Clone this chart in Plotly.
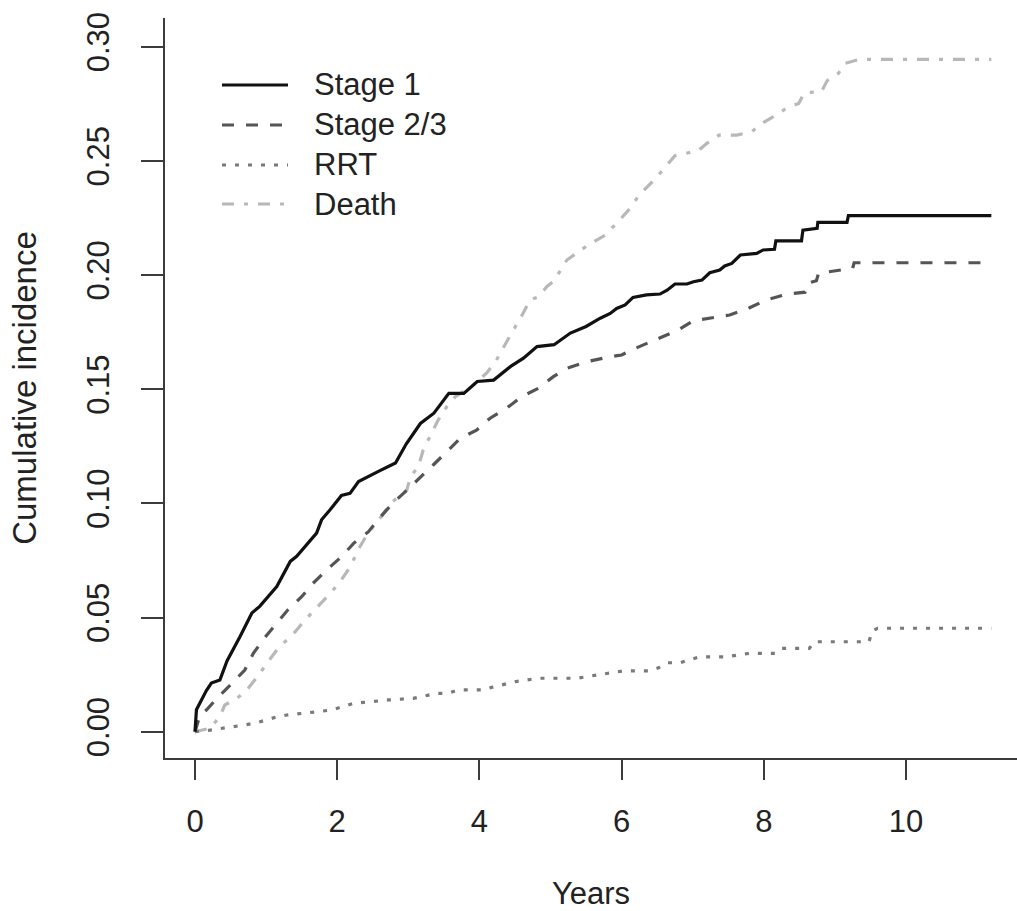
import plotly.graph_objects as go

# ---------------- data ----------------
stage1_x = [0, 0.02, 0.16, 0.23, 0.35, 0.45, 0.63, 0.80, 0.91, 1.15, 1.34, 1.43, 1.71, 1.78,
            1.90, 2.06, 2.18, 2.30, 2.58, 2.82, 2.97, 3.17, 3.36, 3.57, 3.78, 3.97, 4.20,
            4.44, 4.62, 4.81, 5.05, 5.28, 5.50, 5.70, 5.84, 5.93, 6.05, 6.16, 6.35, 6.54,
            6.64, 6.75, 6.92, 7.01, 7.13, 7.24, 7.38, 7.45, 7.55, 7.67, 7.90, 7.99, 8.15,
            8.17, 8.53, 8.55, 8.75, 8.76, 9.17, 9.19, 11.2]
stage1_y = [0, 0.0096, 0.0180, 0.0213, 0.0226, 0.0310, 0.0415, 0.0520, 0.0549, 0.0636, 0.0746,
            0.0768, 0.0870, 0.0928, 0.0972, 0.1035, 0.1044, 0.1096, 0.1140, 0.1177, 0.1260,
            0.1350, 0.1395, 0.1482, 0.1482, 0.1534, 0.1540, 0.1600, 0.1636, 0.1687, 0.1695,
            0.1746, 0.1775, 0.1811, 0.1832, 0.1854, 0.1869, 0.1902, 0.1913, 0.1917, 0.1934,
            0.1961, 0.1961, 0.1971, 0.1978, 0.2010, 0.2022, 0.2040, 0.2051, 0.2088, 0.2095,
            0.2110, 0.2113, 0.2150, 0.2150, 0.2197, 0.2205, 0.2231, 0.2231, 0.2260, 0.2260]

stage23_x = [0, 0.07, 0.16, 0.33, 0.52, 0.70, 0.82, 0.98, 1.15, 1.31, 1.50, 1.66, 1.85, 2.06,
             2.23, 2.44, 2.60, 2.77, 2.97, 3.16, 3.35, 3.54, 3.73, 3.96, 4.15, 4.38, 4.59,
             4.83, 5.04, 5.23, 5.50, 5.80, 6.00, 6.20, 6.50, 6.80, 7.01, 7.52, 7.78, 8.03,
             8.33, 8.58, 8.62, 8.74, 8.77, 9.10, 9.25, 9.27, 11.2]
stage23_y = [0, 0.0073, 0.0095, 0.0153, 0.0212, 0.0270, 0.0343, 0.0412, 0.0475, 0.0535, 0.0591,
             0.0650, 0.0708, 0.0766, 0.0825, 0.0876, 0.0938, 0.0997, 0.1055, 0.1110, 0.1168,
             0.1226, 0.1285, 0.1321, 0.1373, 0.1416, 0.1467, 0.1504, 0.1555, 0.1592, 0.1620,
             0.1640, 0.1650, 0.1680, 0.1720, 0.1760, 0.1800, 0.1825, 0.1854, 0.1891, 0.1917,
             0.1925, 0.1965, 0.1975, 0.2008, 0.2022, 0.2030, 0.2054, 0.2054]

rrt_x = [0, 0.21, 0.54, 0.84, 1.13, 1.29, 1.59, 1.92, 2.23, 2.72, 3.07, 3.40, 3.56, 3.70, 4.05,
         4.17, 4.50, 4.83, 5.37, 5.53, 5.81, 6.02, 6.39, 6.52, 6.64, 6.82, 6.95, 7.10, 7.47,
         7.63, 7.79, 8.16, 8.25, 8.64, 8.71, 9.48, 9.52, 9.60, 11.2]
rrt_y = [0, 0.0007, 0.0022, 0.0037, 0.0063, 0.0073, 0.0083, 0.0095, 0.0124, 0.0139, 0.0146,
         0.0168, 0.0168, 0.0183, 0.0183, 0.0194, 0.0219, 0.0234, 0.0234, 0.0241, 0.0256,
         0.0266, 0.0266, 0.0280, 0.0302, 0.0302, 0.0314, 0.0328, 0.0328, 0.0336, 0.0343,
         0.0343, 0.0365, 0.0365, 0.0394, 0.0394, 0.0440, 0.0453, 0.0453]

death_x = [0, 0.21, 0.35, 0.42, 0.59, 0.73, 0.84, 0.94, 1.05, 1.15, 1.29, 1.41, 1.52, 1.65,
           1.80, 1.92, 2.04, 2.18, 2.30, 2.43, 2.62, 2.75, 2.98, 3.03, 3.14, 3.21, 3.33, 3.42,
           3.54, 3.66, 3.90, 4.10, 4.24, 4.34, 4.45, 4.59, 4.71, 4.83, 4.95, 5.05, 5.23, 5.53,
           5.77, 5.95, 6.12, 6.24, 6.36, 6.47, 6.58, 6.75, 7.08, 7.20, 7.37, 7.62, 7.83, 7.97,
           8.13, 8.30, 8.49, 8.57, 8.81, 8.89, 9.05, 9.14, 9.35, 11.2]
death_y = [0, 0.0015, 0.0066, 0.0117, 0.0146, 0.0183, 0.0226, 0.0270, 0.0314, 0.0358, 0.0402,
           0.0438, 0.0480, 0.0525, 0.0572, 0.0612, 0.0657, 0.0720, 0.0800, 0.0869, 0.0942,
           0.1000, 0.1059, 0.1117, 0.1160, 0.1234, 0.1307, 0.1365, 0.1423, 0.1467, 0.1515,
           0.1570, 0.1628, 0.1686, 0.1745, 0.1818, 0.1891, 0.1905, 0.1950, 0.1975, 0.2066,
           0.2132, 0.2175, 0.2234, 0.2292, 0.2348, 0.2384, 0.2421, 0.2460, 0.2523, 0.2545,
           0.2577, 0.2613, 0.2613, 0.2628, 0.2664, 0.2693, 0.2727, 0.2752, 0.2799, 0.2803,
           0.2851, 0.2884, 0.2927, 0.2945, 0.2945]

series_names = ["Stage 1", "Stage 2/3", "RRT", "Death"]
x_ticks = [0, 2, 4, 6, 8, 10]
y_ticks = [0.00, 0.05, 0.10, 0.15, 0.20, 0.25, 0.30]
y_ticktext = ["0.00", "0.05", "0.10", "0.15", "0.20", "0.25", "0.30"]

# ---------------- styles ----------------
FONT = "Liberation Sans, Arial, Helvetica, sans-serif"
TXT = "#222222"
AX = "#3c3c3c"
styles = [
    dict(color="#111111", width=3.2, dash="solid"),
    dict(color="#555555", width=3.2, dash="12px,12px"),
    dict(color="#7a7a7a", width=3.2, dash="4px,9px"),
    dict(color="#b8b8b8", width=3.2, dash="12px,10px,4px,10px"),
]
xs = [stage1_x, stage23_x, rrt_x, death_x]
ys = [stage1_y, stage23_y, rrt_y, death_y]

W, H = 1017, 911
ML, MR, MT, MB = 165, 0, 18, 153

fig = go.Figure()
# draw death first so it sits underneath
for i in [3, 2, 1, 0]:
    fig.add_trace(go.Scatter(x=xs[i], y=ys[i], mode="lines", name=series_names[i],
                             line=styles[i], showlegend=False, hoverinfo="skip"))

# custom R-style legend (line samples + labels), placed in paper coordinates
pw, ph = W - ML - MR, H - MT - MB
leg_rows_px = [85, 125, 165, 204]
for i, name in enumerate(series_names):
    yp = (H - MB - leg_rows_px[i]) / ph
    fig.add_shape(type="line", xref="paper", yref="paper",
                  x0=(222 - ML) / pw, x1=(288 - ML) / pw, y0=yp, y1=yp,
                  line=styles[i])
    fig.add_annotation(text=name, xref="paper", yref="paper",
                       x=(312 - ML) / pw, y=yp, xanchor="left", yanchor="middle",
                       showarrow=False, font=dict(family=FONT, size=31, color=TXT))

fig.update_layout(
    width=W, height=H,
    margin=dict(l=ML, r=MR, t=MT, b=MB, pad=0),
    paper_bgcolor="white", plot_bgcolor="white",
    font=dict(family=FONT, size=31, color=TXT),
    showlegend=False,
)
fig.update_xaxes(
    range=[-0.422, 11.561], tickvals=x_ticks, ticktext=[str(v) for v in x_ticks],
    showgrid=False, zeroline=False, showline=True, linecolor=AX, linewidth=2,
    ticks="outside", ticklen=20, tickwidth=2, tickcolor=AX,
    tickfont=dict(family=FONT, size=31, color=TXT), ticklabelstandoff=15,
    title=dict(text="Years", font=dict(family=FONT, size=31, color=TXT), standoff=46),
    automargin=False,
)
fig.update_yaxes(
    range=[-0.01152, 0.3126], tickvals=y_ticks, ticktext=y_ticktext, tickangle=-90,
    showgrid=False, zeroline=False, showline=True, linecolor=AX, linewidth=2,
    ticks="outside", ticklen=22, tickwidth=2, tickcolor=AX,
    tickfont=dict(family=FONT, size=31, color=TXT), ticklabelstandoff=20,
    title=dict(text="Cumulative incidence", font=dict(family=FONT, size=33, color=TXT), standoff=34),
    automargin=False,
)

fig.write_html("out.html")
